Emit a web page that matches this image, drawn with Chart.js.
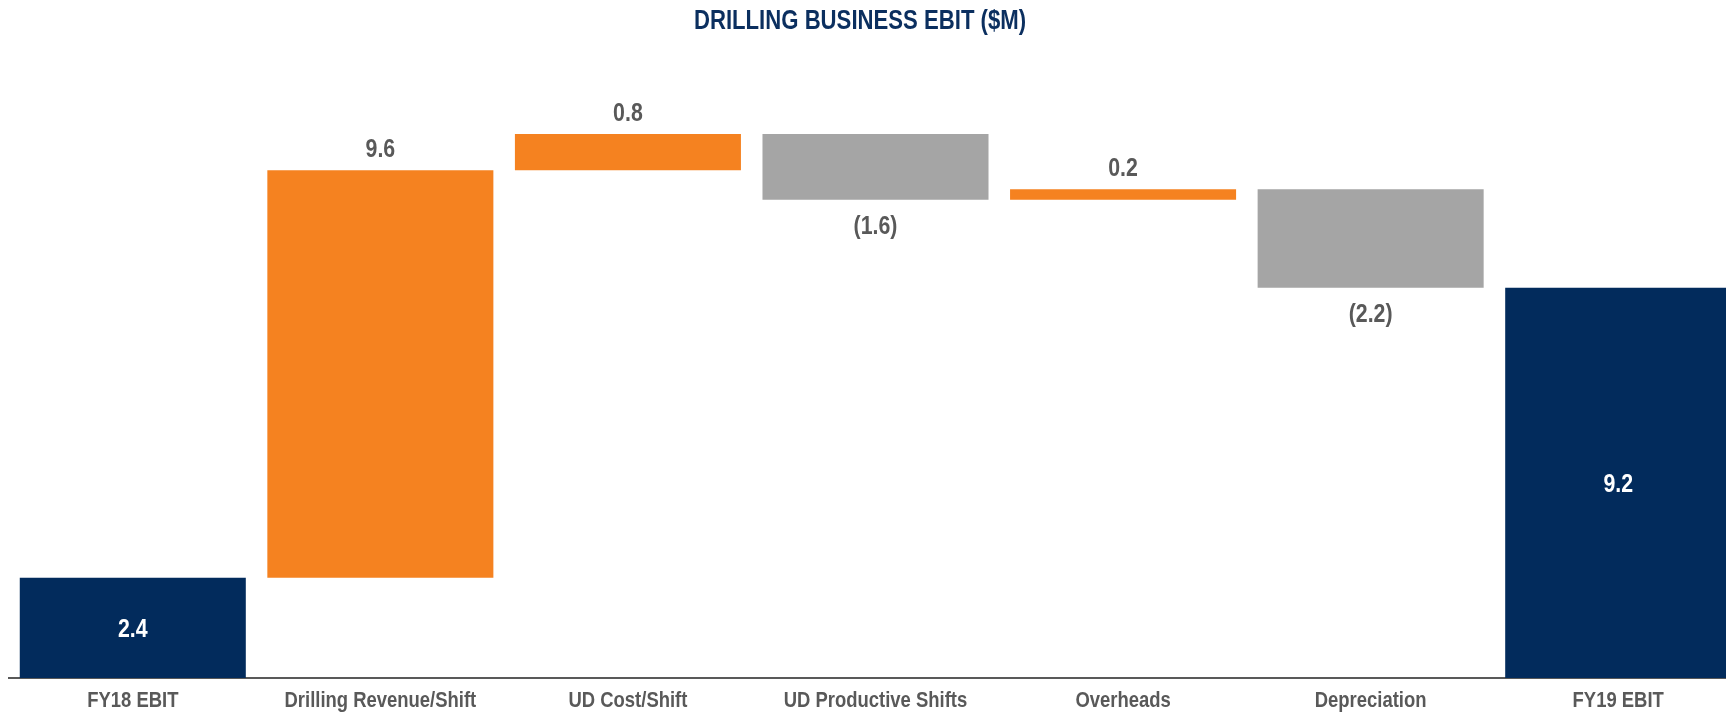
<!DOCTYPE html>
<html>
<head>
<meta charset="utf-8">
<title>Drilling Business EBIT</title>
<script src="https://cdn.jsdelivr.net/npm/chart.js@4/dist/chart.umd.min.js"></script>
<style>
  html, body { margin: 0; padding: 0; background: #fff; overflow: hidden; }
  #wrap { width: 1742px; height: 715px; }
</style>
</head>
<body>
<div id="wrap"><canvas id="chart-ebit" width="1742" height="715"></canvas></div>
<script>
// ── Data ─────────────────────────────────────
const categories  = ['FY18 EBIT', 'Drilling Revenue/Shift', 'UD Cost/Shift', 'UD Productive Shifts', 'Overheads', 'Depreciation', 'FY19 EBIT'];
const changes     = [2.36, 9.61, 0.85, -1.55, 0.25, -2.32, 9.2];
const valueLabels = ['2.4', '9.6', '0.8', '(1.6)', '0.2', '(2.2)', '9.2'];
const kinds       = ['total', 'step', 'step', 'step', 'step', 'step', 'total'];
const yRange      = [0, 14]; // value range of the (hidden) y axis

const COLORS = { total: '#022b5c', up: '#f58220', down: '#a5a5a5' };
const TEXT_GREY = '#595959';
const TITLE = 'DRILLING BUSINESS EBIT ($M)';

// narrow bold face like the source; squeeze a normal face if narrow is missing
function hasFont(name) {
  const c = document.createElement('canvas').getContext('2d');
  c.font = 'bold 40px monospace';
  const base = c.measureText('DRILLING Business 0.8').width;
  c.font = `bold 40px "${name}", monospace`;
  return c.measureText('DRILLING Business 0.8').width !== base;
}
const NARROW  = hasFont('Liberation Sans Narrow');
const FAMILY  = NARROW ? '"Liberation Sans Narrow", "Liberation Sans", Arial' : '"Liberation Sans", Arial, sans-serif';
const SQUEEZE = NARROW ? 1 : 0.82;

// running totals -> floating [start, end] ranges
const ranges = [];
let running = 0;
changes.forEach((v, i) => {
  if (kinds[i] === 'total') { ranges.push([0, v]); running = v; }
  else { ranges.push([running, running + v]); running += v; }
});
const barColors = changes.map((v, i) => kinds[i] === 'total' ? COLORS.total : (v >= 0 ? COLORS.up : COLORS.down));

function drawText(ctx, text, x, y, size, color) {
  ctx.save();
  ctx.font = `bold ${size}px ${FAMILY}`;
  ctx.fillStyle = color;
  ctx.textAlign = 'center';
  ctx.textBaseline = 'middle';
  ctx.translate(x, y);
  ctx.scale(SQUEEZE, 1);
  ctx.fillText(text, 0, 0);
  ctx.restore();
}

// ── Text plugin: title, bar values, category names ──
const textPlugin = {
  id: 'waterfallText',
  afterDraw(chart) {
    const { ctx, chartArea } = chart;
    const xScale = chart.scales.x;
    drawText(ctx, TITLE, 860, 22, 27, '#0b2f5f');

    const meta = chart.getDatasetMeta(0);
    meta.data.forEach((bar, i) => {
      const top = Math.min(bar.y, bar.base);
      const bottom = Math.max(bar.y, bar.base);
      if (kinds[i] === 'total') {
        drawText(ctx, valueLabels[i], bar.x, (top + bottom) / 2 + 2, 26, '#ffffff');
      } else if (changes[i] >= 0) {
        drawText(ctx, valueLabels[i], bar.x, top - 20, 26, TEXT_GREY);
      } else {
        drawText(ctx, valueLabels[i], bar.x, bottom + 27, 26, TEXT_GREY);
      }
    });

    categories.forEach((c, i) => {
      drawText(ctx, c, xScale.getPixelForValue(i), chartArea.bottom + 23, 22.5, TEXT_GREY);
    });
  }
};

new Chart(document.getElementById('chart-ebit'), {
  type: 'bar',
  data: {
    labels: categories,
    datasets: [{
      data: ranges,
      backgroundColor: barColors,
      borderWidth: 0,
      barPercentage: 0.913,
      categoryPercentage: 1,
    }]
  },
  options: {
    responsive: false,
    animation: false,
    devicePixelRatio: 1,
    layout: { padding: { top: 84, bottom: 37, left: 9, right: 0 } },
    plugins: {
      legend: { display: false },
      title: { display: false },
      tooltip: { enabled: false },
    },
    scales: {
      x: {
        display: true,
        ticks: { display: false },
        grid: { display: false, drawTicks: false },
        border: { display: true, color: '#595959', width: 2 },
      },
      y: {
        display: false,
        min: yRange[0],
        max: yRange[1],
      }
    }
  },
  plugins: [textPlugin]
});
</script>
</body>
</html>
